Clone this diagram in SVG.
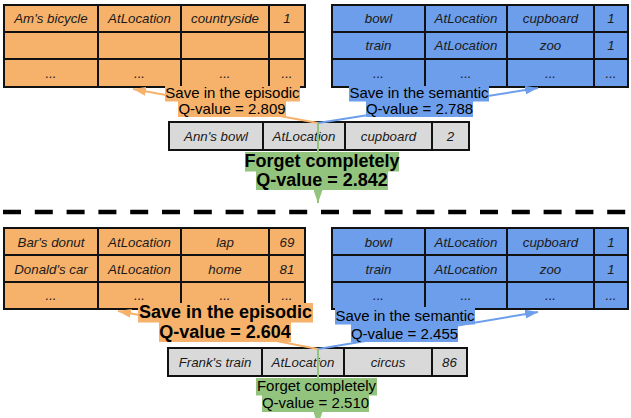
<svg xmlns="http://www.w3.org/2000/svg" width="631" height="418" viewBox="0 0 631 418">
<style>
.t{font-family:"Liberation Sans",Arial,sans-serif;font-size:13.3px;font-style:italic;fill:#1a1a1a;text-anchor:middle}
.grid{stroke:#111;stroke-width:2;fill:none}
.ep{fill:#f6b26b}
.se{fill:#6d9eeb}
.gr{fill:#d9d9d9}
.fo{fill:#93c47d}
.l{font-family:"Liberation Sans",Arial,sans-serif;font-size:15px;fill:#000;text-anchor:middle}
.b{font-family:"Liberation Sans",Arial,sans-serif;font-size:18px;font-weight:bold;fill:#000;text-anchor:middle}
.c{stroke-width:2;fill:none}
</style>
<defs>
<marker id="ao" markerUnits="userSpaceOnUse" markerWidth="13" markerHeight="9" viewBox="0 0 13 9" refX="13" refY="4.5" orient="auto"><path d="M0,0 L13,4.5 L0,9 z" fill="#f6b26b"/></marker>
<marker id="ab" markerUnits="userSpaceOnUse" markerWidth="13" markerHeight="9" viewBox="0 0 13 9" refX="13" refY="4.5" orient="auto"><path d="M0,0 L13,4.5 L0,9 z" fill="#6d9eeb"/></marker>
<marker id="ag" markerUnits="userSpaceOnUse" markerWidth="13" markerHeight="9" viewBox="0 0 13 9" refX="13" refY="4.5" orient="auto"><path d="M0,0 L13,4.5 L0,9 z" fill="#93c47d"/></marker>
</defs>

<!-- Top episodic table -->
<g id="episodic-top">
<rect class="ep" x="4" y="5" width="301" height="82"/>
<path class="grid" d="M4,5H305V87H4Z M4,32H305 M4,59H305 M98,5V87 M181,5V87 M269,5V87"/>
<text class="t" x="51" y="23">Am's bicycle</text>
<text class="t" x="139.5" y="23">AtLocation</text>
<text class="t" x="225" y="23">countryside</text>
<text class="t" x="287" y="23">1</text>
<text class="t" x="51" y="77.5">...</text>
<text class="t" x="139.5" y="77.5">...</text>
<text class="t" x="225" y="77.5">...</text>
<text class="t" x="287" y="77.5">...</text>
</g>

<!-- Top semantic table -->
<g id="semantic-top">
<rect class="se" x="332" y="5" width="296" height="82"/>
<path class="grid" d="M332,5H628V87H332Z M332,32H628 M332,59H628 M425,5V87 M507,5V87 M594,5V87"/>
<text class="t" x="378.5" y="23">bowl</text>
<text class="t" x="466" y="23">AtLocation</text>
<text class="t" x="550.5" y="23">cupboard</text>
<text class="t" x="611" y="23">1</text>
<text class="t" x="378.5" y="50">train</text>
<text class="t" x="466" y="50">AtLocation</text>
<text class="t" x="550.5" y="50">zoo</text>
<text class="t" x="611" y="50">1</text>
<text class="t" x="378.5" y="77.5">...</text>
<text class="t" x="466" y="77.5">...</text>
<text class="t" x="550.5" y="77.5">...</text>
<text class="t" x="611" y="77.5">...</text>
</g>

<!-- Top incoming observation -->
<g id="observation-top">
<rect class="gr" x="169" y="122" width="300" height="28"/>
<path class="grid" d="M169,122H469V150H169Z M263,122V150 M345,122V150 M432,122V150"/>
<text class="t" x="216" y="140.5">Ann's bowl</text>
<text class="t" x="304" y="140.5">AtLocation</text>
<text class="t" x="388.5" y="140.5">cupboard</text>
<text class="t" x="450.5" y="140.5">2</text>
</g>

<!-- Bottom episodic table -->
<g id="episodic-bottom">
<rect class="ep" x="4" y="228" width="301" height="81"/>
<path class="grid" d="M4,228H305V309H4Z M4,255H305 M4,282H305 M98,228V309 M181,228V309 M269,228V309"/>
<text class="t" x="51" y="246.5">Bar's donut</text>
<text class="t" x="139.5" y="246.5">AtLocation</text>
<text class="t" x="225" y="246.5">lap</text>
<text class="t" x="287" y="246.5">69</text>
<text class="t" x="51" y="273.5">Donald's car</text>
<text class="t" x="139.5" y="273.5">AtLocation</text>
<text class="t" x="225" y="273.5">home</text>
<text class="t" x="287" y="273.5">81</text>
<text class="t" x="51" y="300">...</text>
<text class="t" x="139.5" y="300">...</text>
<text class="t" x="225" y="300">...</text>
<text class="t" x="287" y="300">...</text>
</g>

<!-- Bottom semantic table -->
<g id="semantic-bottom">
<rect class="se" x="332" y="228" width="296" height="81"/>
<path class="grid" d="M332,228H628V309H332Z M332,255H628 M332,282H628 M425,228V309 M507,228V309 M594,228V309"/>
<text class="t" x="378.5" y="246.5">bowl</text>
<text class="t" x="466" y="246.5">AtLocation</text>
<text class="t" x="550.5" y="246.5">cupboard</text>
<text class="t" x="611" y="246.5">1</text>
<text class="t" x="378.5" y="273.5">train</text>
<text class="t" x="466" y="273.5">AtLocation</text>
<text class="t" x="550.5" y="273.5">zoo</text>
<text class="t" x="611" y="273.5">1</text>
<text class="t" x="378.5" y="300">...</text>
<text class="t" x="466" y="300">...</text>
<text class="t" x="550.5" y="300">...</text>
<text class="t" x="611" y="300">...</text>
</g>

<!-- Bottom incoming observation -->
<g id="observation-bottom">
<rect class="gr" x="168" y="348" width="299" height="28"/>
<path class="grid" d="M168,348H467V376H168Z M262,348V376 M344,348V376 M432,348V376"/>
<text class="t" x="215" y="366.5">Frank's train</text>
<text class="t" x="303" y="366.5">AtLocation</text>
<text class="t" x="388" y="366.5">circus</text>
<text class="t" x="449.5" y="366.5">86</text>
</g>

<!-- Separator -->
<line id="separator" x1="3" y1="212" x2="627" y2="212" stroke="#000" stroke-width="4.5" stroke-dasharray="18 13.8"/>

<!-- Connectors -->
<g id="connectors">
<line class="c" x1="318" y1="123" x2="133" y2="89" stroke="#f6b26b" marker-end="url(#ao)"/>
<line class="c" x1="318" y1="123" x2="538" y2="88" stroke="#6d9eeb" marker-end="url(#ab)"/>
<line class="c" x1="318" y1="123" x2="318" y2="203" stroke="#93c47d" marker-end="url(#ag)"/>
<line class="c" x1="318" y1="349" x2="118" y2="311" stroke="#f6b26b" marker-end="url(#ao)"/>
<line class="c" x1="318" y1="349" x2="538" y2="312" stroke="#6d9eeb" marker-end="url(#ab)"/>
<line class="c" x1="318" y1="349" x2="318" y2="425" stroke="#93c47d" marker-end="url(#ag)"/>
</g>

<!-- Labels -->
<g id="label-episodic-top">
<rect class="ep" x="165" y="86" width="135" height="15.5"/>
<rect class="ep" x="178" y="101" width="108" height="16"/>
<text class="l" x="232.5" y="98">Save in the episodic</text>
<text class="l" x="232" y="114">Q-value = 2.809</text>
</g>
<g id="label-semantic-top">
<rect class="se" x="349" y="86" width="140" height="15.5"/>
<rect class="se" x="366" y="101" width="107" height="16"/>
<text class="l" x="419" y="98">Save in the semantic</text>
<text class="l" x="419.5" y="114">Q-value = 2.788</text>
</g>
<g id="label-forget-top">
<rect class="fo" x="245" y="152" width="154" height="19.5"/>
<rect class="fo" x="256" y="171" width="132" height="19"/>
<text class="b" x="322" y="167">Forget completely</text>
<text class="b" x="322" y="186">Q-value = 2.842</text>
</g>
<g id="label-episodic-bottom">
<rect class="ep" x="138" y="303" width="175" height="19.5"/>
<rect class="ep" x="159" y="322" width="132" height="20"/>
<text class="b" x="225.5" y="318">Save in the episodic</text>
<text class="b" x="225" y="338">Q-value = 2.604</text>
</g>
<g id="label-semantic-bottom">
<rect class="se" x="335" y="307" width="140" height="17.5"/>
<rect class="se" x="351" y="324" width="107" height="18"/>
<text class="l" x="405" y="321">Save in the semantic</text>
<text class="l" x="404.5" y="339">Q-value = 2.455</text>
</g>
<g id="label-forget-bottom">
<rect class="fo" x="256" y="378" width="121" height="17.5"/>
<rect class="fo" x="262" y="395" width="107" height="17"/>
<text class="l" x="316.5" y="391">Forget completely</text>
<text class="l" x="315.5" y="408">Q-value = 2.510</text>
</g>
</svg>
